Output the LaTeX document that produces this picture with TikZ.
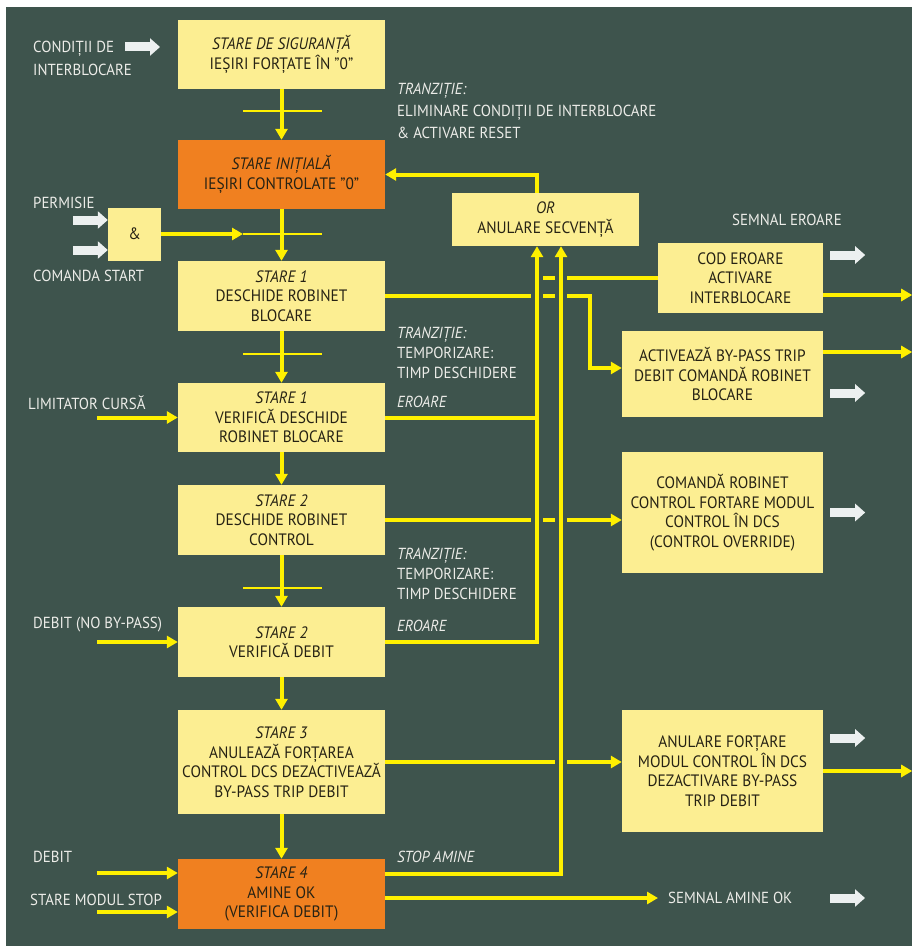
\documentclass[tikz,border=0pt]{standalone}
\usepackage{fontspec}
\setmainfont{PT Sans}[FakeStretch=0.93]
\usetikzlibrary{arrows.meta,calc}
\definecolor{panel}{RGB}{62,84,77}
\definecolor{boxyellow}{RGB}{252,238,146}
\definecolor{boxorange}{RGB}{240,128,32}
\definecolor{lineyellow}{RGB}{255,240,0}
\definecolor{arrowwhite}{RGB}{236,240,240}
\definecolor{boxtext}{RGB}{38,34,20}
\definecolor{lbltext}{RGB}{236,236,232}
\tikzset{
	stbox/.style={fill=boxyellow,text=boxtext,inner sep=0pt,minimum width=207pt,align=center,font=\fontsize{16.5}{19.5}\selectfont},
	initbox/.style={stbox,fill=boxorange},
	outbox/.style={stbox,minimum width=201pt},
	lbl/.style={text=lbltext,anchor=west,inner sep=0pt,align=left,font=\fontsize{16}{20}\selectfont},
	ilbl/.style={lbl,font=\fontsize{16}{20}\selectfont\itshape},
	flow/.style={draw=lineyellow,line width=4pt,-{Triangle[length=11pt,width=12pt]}},
	wire/.style={draw=lineyellow,line width=4pt},
	tbar/.style={draw=lineyellow,line width=2pt},
	wout/.style={draw=arrowwhite,line width=9pt,-{Triangle[length=10pt,width=17pt]}},
	bridge/.style={preaction={draw=panel,line width=12pt,-}}
}
\begin{document}
\begin{tikzpicture}[x=1pt,y=-1pt]
	\useasboundingbox (0,0) rectangle (912,950);
	\fill[white] (0,0) rectangle (912,950);
	\fill[panel] (6,7) rectangle (912,946);

	\node[stbox,minimum height=69pt] (safe) at (281.5,54.5) {\textit{STARE DE SIGURANȚĂ}\\IEȘIRI FORȚATE ÎN "0"};
	\node[initbox,minimum height=69pt] (init) at (281.5,174.5) {\textit{STARE INIȚIALĂ}\\IEȘIRI CONTROLATE "0"};
	\node[stbox,minimum height=70pt] (s1open) at (281.5,296) {\textit{STARE 1}\\DESCHIDE ROBINET\\BLOCARE};
	\node[stbox,minimum height=69pt] (s1check) at (281.5,417.5) {\textit{STARE 1}\\VERIFICĂ DESCHIDE\\ROBINET BLOCARE};
	\node[stbox,minimum height=70pt] (s2open) at (281.5,520) {\textit{STARE 2}\\DESCHIDE ROBINET\\CONTROL};
	\node[stbox,minimum height=70pt] (s2check) at (281.5,642) {\textit{STARE 2}\\VERIFICĂ DEBIT};
	\node[stbox,minimum height=104pt] (s3) at (281.5,762) {\textit{STARE 3}\\ANULEAZĂ FORȚAREA\\CONTROL DCS DEZACTIVEAZĂ\\BY-PASS TRIP DEBIT};
	\node[initbox,minimum height=70pt] (s4) at (281.5,894) {\textit{STARE 4}\\AMINE OK\\(VERIFICA DEBIT)};
	\node[stbox,minimum width=53pt,minimum height=53pt] (and) at (134.5,234) {\&};

	\node[stbox,minimum width=187pt,minimum height=53pt] (orbox) at (545.5,219.5) {\textit{OR}\\ANULARE SECVENȚĂ};
	\node[stbox,minimum width=165pt,minimum height=70pt] (cod) at (740.5,278) {COD EROARE\\ACTIVARE\\INTERBLOCARE};
	\node[outbox,minimum height=86pt] (bypass) at (722.5,374) {ACTIVEAZĂ BY-PASS TRIP\\DEBIT COMANDĂ ROBINET\\BLOCARE};
	\node[outbox,minimum height=121pt] (override) at (722.5,512.5) {COMANDĂ ROBINET\\CONTROL FORTARE MODUL\\CONTROL ÎN DCS\\(CONTROL OVERRIDE)};
	\node[outbox,minimum height=122pt] (cancel) at (722.5,771) {ANULARE FORȚARE\\MODUL CONTROL ÎN DCS\\DEZACTIVARE BY-PASS\\TRIP DEBIT};

	\node[lbl,font=\fontsize{16}{23}\selectfont] (interlock) at (33,58.5) {CONDIȚII DE\\INTERBLOCARE};
	\node[lbl] (permit) at (33,203) {PERMISIE};
	\node[lbl] (start) at (33,276) {COMANDA START};
	\node[lbl] (limit) at (28,403) {LIMITATOR CURSĂ};
	\node[lbl] (flowin) at (33,625) {DEBIT (NO BY-PASS)};
	\node[lbl] (debit) at (33,857) {DEBIT};
	\node[lbl] (stopmod) at (30,900) {STARE MODUL STOP};
	\node[lbl,font=\fontsize{16}{22}\selectfont] (trans1) at (397,111) {\textit{TRANZIȚIE:}\\ELIMINARE CONDIȚII DE INTERBLOCARE\\\& ACTIVARE RESET};
	\node[lbl] (trans2) at (397,353) {\textit{TRANZIȚIE:}\\TEMPORIZARE:\\TIMP DESCHIDERE};
	\node[ilbl] (err1) at (397,402) {EROARE};
	\node[lbl] (trans3) at (397,574) {\textit{TRANZIȚIE:}\\TEMPORIZARE:\\TIMP DESCHIDERE};
	\node[ilbl] (err2) at (397,626) {EROARE};
	\node[ilbl] (stopam) at (397,857) {STOP AMINE};
	\node[lbl] (semerr) at (732,220) {SEMNAL EROARE};
	\node[lbl] (amineok) at (668,898) {SEMNAL AMINE OK};

	\coordinate (t2) at (243,234);
	\coordinate (errbus) at (537,0);
	\coordinate (stopbus) at (561,0);

	\draw[flow] (safe) -- (init);
	\draw[flow] (init) -- (s1open);
	\draw[flow] (s1open) -- (s1check);
	\draw[flow] (s1check) -- (s2open);
	\draw[flow] (s2open) -- (s2check);
	\draw[flow] (s2check) -- (s3);
	\draw[flow] (s3) -- (s4);

	\draw[tbar] (243,111) -- (322,111);
	\draw[tbar] (t2) -- ++(79,0);
	\draw[tbar] (243,354) -- (322,354);
	\draw[tbar] (243,588) -- (322,588);

	\draw[wout] (125,47) -- (160,47);
	\draw[wout] ($(and.west)+(-35,-14)$) -- ++(35,0);
	\draw[wout] ($(and.west)+(-35,16)$) -- ++(35,0);
	\draw[flow] (and.east) -- (t2);
	\draw[flow] (s1check.west) ++(-81,0) -- (s1check.west);
	\draw[flow] (s2check.west) ++(-81,0) -- (s2check.west);
	\draw[flow] ($(s4.west)+(-81,-21)$) -- ++(81,0);
	\draw[flow] ($(s4.west)+(-81,18)$) -- ++(81,0);

	\draw[wire] (errbus |- cod.west) -- (cod.west);
	\draw[flow] (s1open.east) -- ++(205,0) |- ($(bypass.west)+(0,-6)$);
	\draw[flow] (s2open.east) -- (s2open.east -| override.west);
	\draw[flow] (s3.east) -- (s3.east -| cancel.west);
	\draw[flow,bridge] (s2check.east) -| (errbus |- orbox.south);
	\draw[flow,bridge] ($(s4.east)+(0,-20)$) -| (stopbus |- orbox.south);
	\draw[wire] (s1check.east) -- (s1check.east -| errbus);
	\draw[flow] (errbus |- orbox.north) |- (init.east);

	\draw[flow] ($(cod.east)+(0,17)$) -- ++(89,0);
	\draw[flow] ($(bypass.east)+(0,-22)$) -- ++(89,0);
	\draw[flow] (cancel.east) -- ++(89,0);
	\draw[flow,shorten >=10pt] ($(s4.east)+(0,4)$) -- (amineok.west);

	\draw[wout] ($(cod.east)+(7,-23)$) -- ++(35,0);
	\draw[wout] ($(bypass.east)+(7,19)$) -- ++(35,0);
	\draw[wout] (override.east) ++(7,0) -- ++(35,0);
	\draw[wout] ($(cancel.east)+(7,-33)$) -- ++(35,0);
	\draw[wout] (830,898) -- ++(35,0);
\end{tikzpicture}
\end{document}
